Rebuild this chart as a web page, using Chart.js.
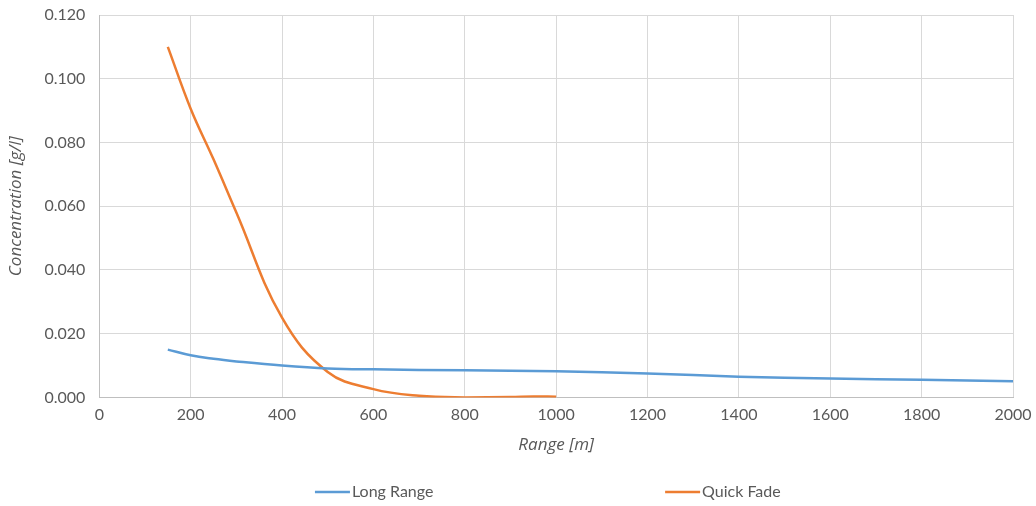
<!DOCTYPE html>
<html>
<head>
<meta charset="utf-8">
<script src="https://cdn.jsdelivr.net/npm/chart.js@4/dist/chart.umd.min.js"></script>
<style>
  html, body { margin: 0; padding: 0; background: #fff; }
  #chart { display: block; }
</style>
</head>
<body>
<canvas id="chart" width="1036" height="506"></canvas>
<script>
// range [m] and concentration [g/l] for each series
const longRange = [150, 200, 250, 300, 400, 500, 600, 800, 1000, 1200, 1400, 1600, 1800, 2000];
const longConc = [0.0150, 0.0132, 0.0121, 0.0113, 0.0100, 0.0091, 0.0088, 0.0085, 0.0082, 0.0075, 0.0065, 0.0059, 0.0055, 0.0051];

const fadeRange = [150, 200, 250, 300, 400, 500, 600, 700, 800, 900, 950, 1000];
const fadeConc = [0.110, 0.0906, 0.0747, 0.058, 0.0250, 0.0080, 0.0026, 0.0005, 0.0000, 0.0001, 0.0003, 0.0002];

const seriesNames = ['Long Range', 'Quick Fade'];
const xTitle = 'Range [m]';
const yTitle = 'Concentration [g/l]';

const toPoints = (xs, ys) => xs.map((x, i) => ({ x: x, y: ys[i] }));

const textColor = '#595959';
const gridColor = '#d9d9d9';
const font = { family: 'Lato, "Open Sans", sans-serif', size: 16 };
const titleFont = { family: '"Open Sans", Lato, sans-serif', size: 17, style: 'italic' };

// legend drawn by hand: short line + label, items spread out along the bottom
const bottomLegend = {
  id: 'bottomLegend',
  afterDraw(chart) {
    const ctx = chart.ctx;
    const y = chart.height - 14;
    const starts = [0.304, 0.642];
    ctx.save();
    ctx.font = font.size + 'px ' + font.family;
    ctx.textBaseline = 'middle';
    ctx.fillStyle = textColor;
    chart.data.datasets.forEach((ds, i) => {
      const x = chart.width * starts[i];
      ctx.strokeStyle = ds.borderColor;
      ctx.lineWidth = 2.5;
      ctx.beginPath();
      ctx.moveTo(x, y);
      ctx.lineTo(x + 35, y);
      ctx.stroke();
      ctx.fillText(ds.label, x + 37, y);
    });
    ctx.restore();
  }
};

new Chart(document.getElementById('chart'), {
  type: 'line',
  data: {
    datasets: [
      {
        label: seriesNames[0],
        data: toPoints(longRange, longConc),
        borderColor: '#5B9BD5',
        backgroundColor: '#5B9BD5',
        borderWidth: 2.5,
        pointRadius: 0,
        tension: 0.4
      },
      {
        label: seriesNames[1],
        data: toPoints(fadeRange, fadeConc),
        borderColor: '#ED7D31',
        backgroundColor: '#ED7D31',
        borderWidth: 2.5,
        pointRadius: 0,
        tension: 0.4
      }
    ]
  },
  plugins: [bottomLegend],
  options: {
    responsive: false,
    animation: false,
    layout: {
      autoPadding: false,
      padding: { left: 6, right: 23, top: 15, bottom: 51 }
    },
    plugins: {
      tooltip: { enabled: false },
      legend: { display: false }
    },
    scales: {
      x: {
        type: 'linear',
        min: 0,
        max: 2000,
        // edge labels may hang over the padding, don't let them shrink the plot
        afterFit: (s) => { s.paddingLeft = 0; s.paddingRight = 0; },
        ticks: {
          stepSize: 200,
          color: textColor,
          font: font,
          padding: 8,
          callback: (v) => String(v)
        },
        grid: { color: gridColor, lineWidth: 1, drawTicks: false },
        border: { color: '#bfbfbf', width: 1 },
        title: {
          display: true,
          text: xTitle,
          color: textColor,
          font: titleFont,
          padding: { top: 2, bottom: 0 }
        }
      },
      y: {
        min: 0,
        max: 0.12,
        afterFit: (s) => { s.paddingTop = 0; s.paddingBottom = 0; },
        ticks: {
          stepSize: 0.02,
          color: textColor,
          font: font,
          padding: 14,
          callback: (v) => v.toFixed(3)
        },
        grid: { color: gridColor, lineWidth: 1, drawTicks: false },
        border: { color: '#bfbfbf', width: 1 },
        title: {
          display: true,
          text: yTitle,
          color: textColor,
          font: titleFont,
          padding: { top: 0, bottom: 4 }
        }
      }
    }
  }
});
</script>
</body>
</html>
